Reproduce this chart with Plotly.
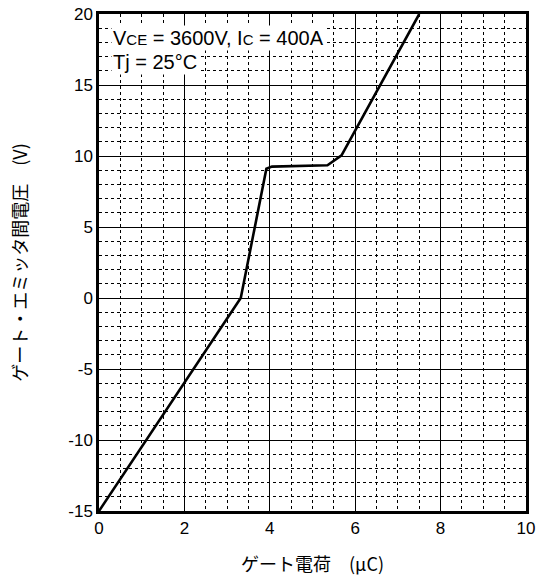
import plotly.graph_objects as go

# Gate charge (uC) vs gate-emitter voltage (V)
charge_uC = [0.0, 3.32, 3.92, 4.05, 5.35, 5.68, 7.5]
vge_V = [-15.0, 0.0, 9.1, 9.25, 9.35, 10.05, 20.0]

x_ticks = [0, 2, 4, 6, 8, 10]
y_ticks = [-15, -10, -5, 0, 5, 10, 15, 20]

FONT = "Liberation Sans, Arial, Helvetica, sans-serif"
JP_FONT = "Noto Sans CJK JP, Liberation Sans, sans-serif"

fig = go.Figure()
fig.add_trace(go.Scatter(
    x=charge_uC, y=vge_V, mode="lines",
    line=dict(color="black", width=2.6),
    showlegend=False, hoverinfo="skip",
))

axis_common = dict(
    showgrid=True, gridcolor="black", gridwidth=1,
    showline=True, linecolor="black", linewidth=2.5, mirror=True,
    ticks="", zeroline=False, automargin=False,
    tickfont=dict(family=FONT, size=17, color="black"),
)

fig.update_xaxes(
    range=[0, 10], tickvals=x_ticks, ticktext=[str(v) for v in x_ticks],
    minor=dict(dtick=0.5, tick0=0, showgrid=True, gridcolor="black",
               griddash="dot", gridwidth=1),
    title=dict(text="ゲート電荷　(μC)", font=dict(family=JP_FONT, size=18, color="black"),
               standoff=22),
    **axis_common,
)
fig.update_yaxes(
    range=[-15, 20], tickvals=y_ticks, ticktext=[str(v) for v in y_ticks],
    minor=dict(dtick=1, tick0=0, showgrid=True, gridcolor="black",
               griddash="dot", gridwidth=1),
    title=dict(text="ゲート・エミッタ間電圧　(V)", font=dict(family=JP_FONT, size=18, color="black"),
               standoff=36),
    **axis_common,
)

fig.add_annotation(
    xref="paper", yref="paper", x=0.028, y=0.952, xanchor="left", yanchor="middle",
    text="V<span style='font-size:15px'>CE</span> = 3600V, I<span style='font-size:15px'>C</span> = 400A",
    showarrow=False, bgcolor="white", borderpad=1,
    font=dict(family=FONT, size=20, color="black"),
)
fig.add_annotation(
    xref="paper", yref="paper", x=0.028, y=0.903, xanchor="left", yanchor="middle",
    text="Tj = 25°C",
    showarrow=False, bgcolor="white", borderpad=1,
    font=dict(family=FONT, size=20, color="black"),
)

fig.update_layout(
    width=544, height=586,
    margin=dict(l=99, r=18, t=14, b=75),
    paper_bgcolor="white", plot_bgcolor="white",
)

fig.write_html("out.html")
